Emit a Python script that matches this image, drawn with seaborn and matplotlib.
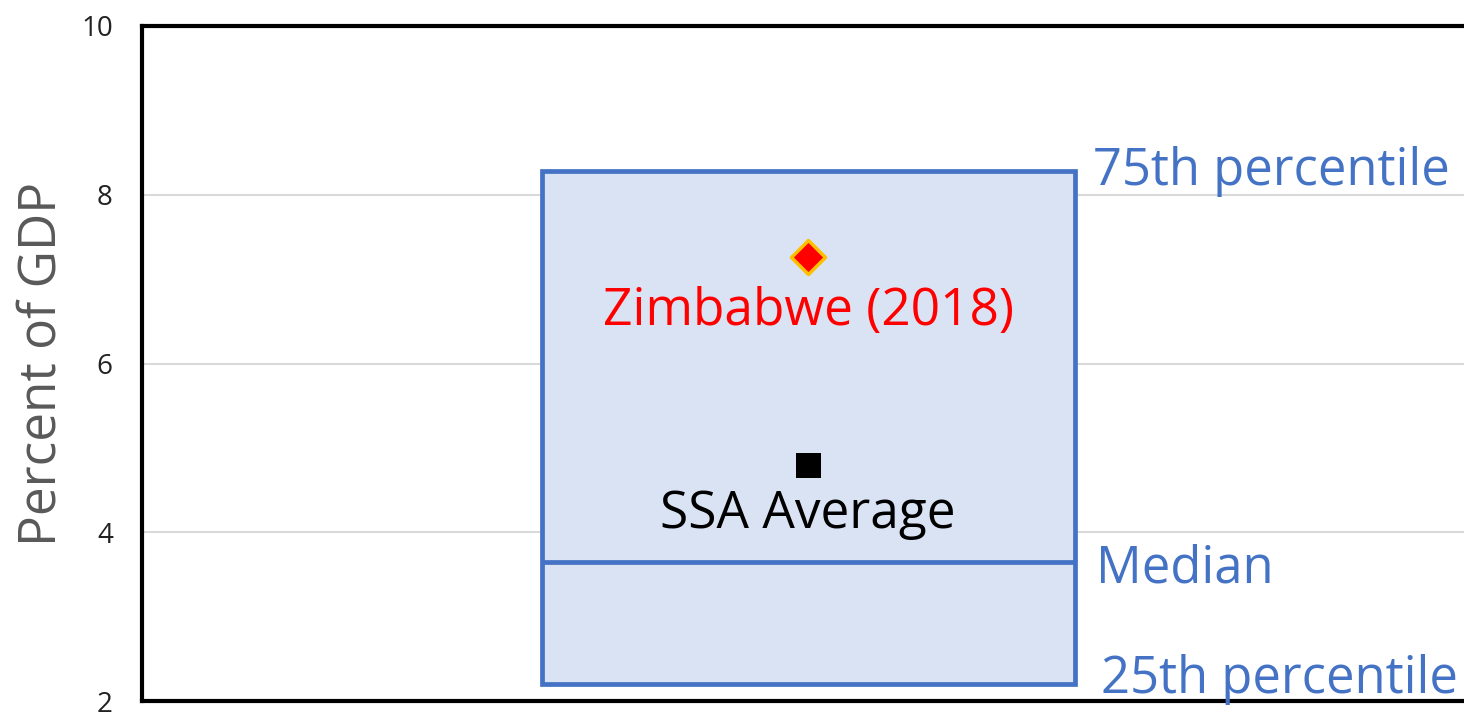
import seaborn as sns
import numpy as np
import matplotlib.pyplot as plt
import pandas as pd
from matplotlib.patches import Rectangle

# distribution summary (percent of GDP)
stat_names = ['25th percentile', 'Median', '75th percentile']
stat_values = [2.2, 3.65, 8.28]

# highlighted points
point_names = ['Zimbabwe (2018)', 'SSA Average']
point_values = [7.26, 4.80]

y_ticks = [2, 4, 6, 8, 10]

sns.set_style('white')
plt.rcParams['font.family'] = ['Open Sans', 'DejaVu Sans']

blue = '#4472C4'
fig = plt.figure(figsize=(14.64, 7.12), dpi=100)
# axes runs past the right edge of the figure, like the original crop
ax = fig.add_axes([142/1464, 11/712, (1480-142)/1464, 675/712])

q25, med, q75 = stat_values
ax.add_patch(Rectangle((-1, q25), 2, q75-q25, facecolor='#DAE3F3',
                       edgecolor=blue, linewidth=3.4, zorder=2))
ax.hlines(med, -1, 1, color=blue, linewidth=3.4, zorder=3)

pts = pd.DataFrame({'name': point_names, 'x': [0, 0], 'y': point_values})
sns.scatterplot(data=pts.iloc[[0]], x='x', y='y', marker='D', s=300,
                color='#FF0000', edgecolor='#FFC000', linewidth=2.5, ax=ax, zorder=4)
sns.scatterplot(data=pts.iloc[[1]], x='x', y='y', marker='s', s=324,
                color='black', edgecolor='black', linewidth=0, ax=ax, zorder=4)

# labels
ax.text(0, point_values[0] - 0.8, point_names[0], color='#FF0000', fontsize=37,
        ha='center', va='baseline', zorder=5)
ax.text(0, point_values[1] - 0.75, point_names[1], color='black', fontsize=37,
        ha='center', va='baseline', zorder=5)
txt_x = [1.10, 1.08, 1.07]
txt_y = [v - d for v, d in zip(stat_values, [0.1, 0.24, 0.16])]
for name, xx, yy in zip(stat_names, txt_x, txt_y):
    ax.text(xx, yy, name, color=blue, fontsize=36.5, ha='left', va='baseline', zorder=5)

ax.set_xlim(-2.5, -2.5 + 1338/266.5)
ax.set_ylim(2, 10)
ax.set_yticks(y_ticks)
ax.set_xticks([])
ax.set_xlabel('')
ax.grid(axis='y', color='#D9D9D9', linewidth=1.5, zorder=0)
ax.set_axisbelow(True)
ax.tick_params(axis='y', length=0, pad=21, labelsize=20, labelcolor='#222222')
ax.set_ylabel('Percent of GDP', fontsize=37, color='#595959')
ax.yaxis.set_label_coords(-0.056, 0.5)

for side in ['left', 'top', 'bottom']:
    ax.spines[side].set_color('black')
    ax.spines[side].set_linewidth(3)
ax.spines['right'].set_visible(False)

fig.savefig('out.png', dpi=100)
